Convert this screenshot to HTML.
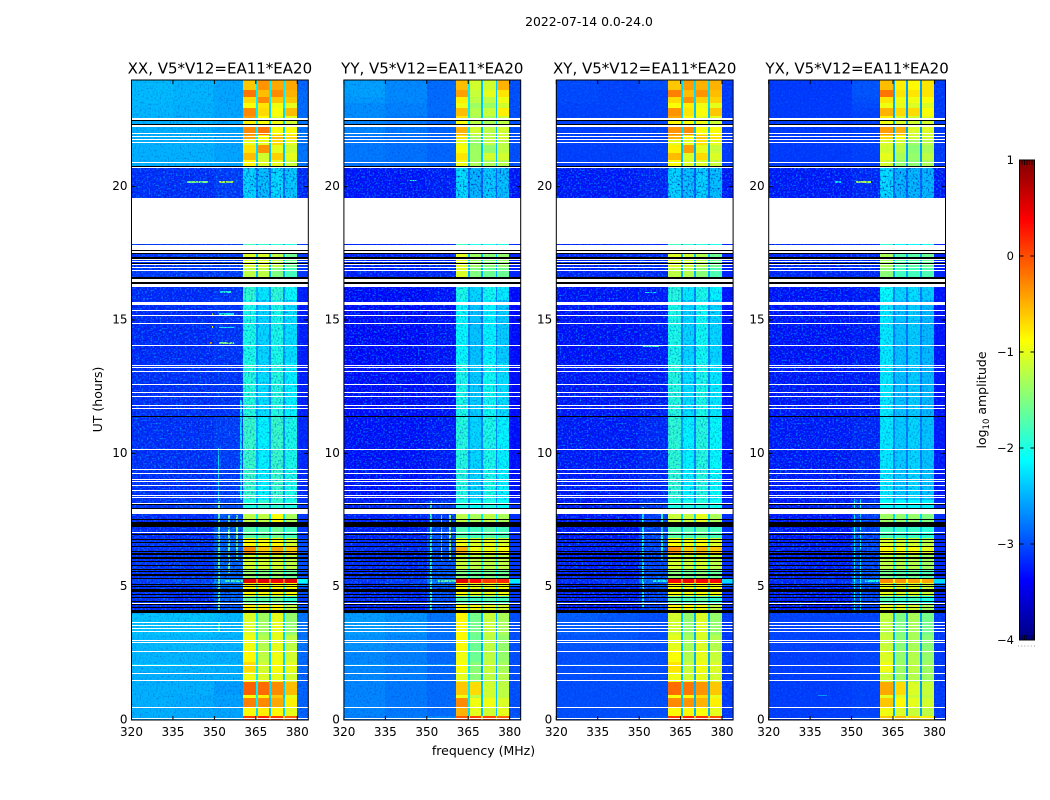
<!DOCTYPE html>
<html lang="en">
<head>
<meta charset="utf-8">
<title>2022-07-14 amplitude waterfall</title>
<style>
html,body{margin:0;padding:0;background:#fff;}
body{width:1050px;height:800px;overflow:hidden;}
svg{display:block;font-family:"DejaVu Sans","Liberation Sans",sans-serif;}
</style>
</head>
<body>
<svg id="fig" xmlns="http://www.w3.org/2000/svg" width="1050" height="800" viewBox="0 0 1050 800">
<defs>
<filter id="grain-dark" x="0" y="0" width="1" height="1" color-interpolation-filters="sRGB">
<feTurbulence type="fractalNoise" baseFrequency="0.6 0.5" numOctaves="1" seed="3"/>
<feColorMatrix values="0 0 0 0 0  0 0 0 0 0.1  0 0 0 0 0.7  3 0 0 0 -1.5"/>
</filter>
<filter id="grain-light" x="0" y="0" width="1" height="1" color-interpolation-filters="sRGB">
<feTurbulence type="fractalNoise" baseFrequency="0.55 0.6" numOctaves="1" seed="11"/>
<feColorMatrix values="0 0 0 0 0  0 0 0 0 0.6  0 0 0 0 1  0 3 0 0 -1.5"/>
</filter>
<linearGradient id="jet-gradient" x1="0" y1="1" x2="0" y2="0"></linearGradient>
</defs>
<text x="589" y="26" font-size="12.4" text-anchor="middle">2022-07-14 0.0-24.0</text>
<text x="483.5" y="755" font-size="12.5" text-anchor="middle">frequency (MHz)</text>
<text x="102" y="399.5" font-size="12.5" text-anchor="middle" transform="rotate(-90 102 399.5)">UT (hours)</text>
<text x="986" y="400" font-size="12.5" text-anchor="middle" transform="rotate(-90 986 400)">log<tspan font-size="8.5" dy="3">10</tspan><tspan dy="-3"> amplitude</tspan></text>
</svg>
<script>
const panelTitles = ["XX, V5*V12=EA11*EA20", "YY, V5*V12=EA11*EA20", "XY, V5*V12=EA11*EA20", "YX, V5*V12=EA11*EA20"];
const xTicks = [320, 335, 350, 365, 380];
const yTicks = [0, 5, 10, 15, 20];
const cbarTicks = [1, 0, -1, -2, -3, -4];
const freqEdges = [320, 335, 350, 360.4, 365, 365.8, 369.8, 370.5, 374.9, 375.6, 379.9, 384];
const hourEdges = [0, 0.15, 0.49, 0.82, 0.94, 1.43, 1.8, 2.18, 2.63, 3.19, 4.01, 4.35, 4.65, 5.03, 5.14, 5.29, 5.63, 6.19, 6.53, 6.83, 7.24, 7.73, 8.25, 11.4, 13.4, 15.75, 16.35, 17, 17.5, 17.85, 19.59, 20.71, 21, 21.26, 21.56, 21.75, 21.94, 22.31, 22.46, 22.65, 22.95, 23.14, 23.36, 23.63, 24];
const N = null;
const noData = [N, N, N, N, N, N, N, N, N, N, N];
const ampXX = [
[-2.5,-2.52,-2.55,.1,-.4,.2,-.5,.1,-.6,-.1,-2.9],
[-2.5,-2.52,-2.55,-.85,-2.3,-.8,-2.4,-.85,-2.3,-1,-2.9],
[-2.5,-2.52,-2.58,-.25,-2.2,-.3,-2.4,-.45,-2.3,-.8,-2.9],
[-2.5,-2.52,-2.55,-.9,-2.2,-.8,-2.3,-.6,-2.4,-1,-2.9],
[-2.5,-2.5,-2.6,-.1,-2.2,-.15,-2.3,-.3,-2.3,-.55,-2.9],
[-2.5,-2.5,-2.5,-.95,-2.2,-1.05,-2.3,-1,-2.3,-1.1,-2.9],
[-2.47,-2.48,-2.5,-.7,-2.2,-1.1,-2.3,-.9,-2.3,-1,-2.85],
[-2.47,-2.48,-2.5,-.85,-2.2,-1.2,-2.3,-.95,-2.3,-1.1,-2.85],
[-2.45,-2.45,-2.48,-.95,-2.2,-1.25,-2.3,-1,-2.3,-1.2,-2.8],
[-2.4,-2.4,-2.45,-1.05,-2.2,-1.35,-2.3,-1,-2.3,-1.4,-2.8],
[-3.2,-3.2,-3,-.8,-1.8,-.8,-1.8,-.9,-1.8,-1.2,-3],
[-3.15,-3.2,-2.9,-1.6,-2.3,-1.7,-2.3,-1.6,-2.3,-1.9,-3.1],
[-3.15,-3.2,-2.9,-.85,-2,-.9,-2,-.85,-2,-.9,-3],
[-3.15,-3.05,-2.85,-.8,-1.8,-.9,-1.8,-.85,-1.8,-.9,-2.6],
[-3.1,-3.05,-2.65,.5,-.2,.5,-.2,.45,-.2,.5,-2.1],
[-3.15,-3.15,-2.9,-1.4,-2.1,-1.5,-2.1,-1.4,-2.1,-1.6,-3],
[-3.15,-3.15,-2.9,-1.1,-2,-1.1,-2,-1.1,-2,-1.2,-3],
[-3.15,-3.15,-2.9,-.3,-1.8,-.6,-1.8,-.45,-1.8,-.6,-3],
[-3.15,-3.15,-2.9,-.85,-2,-.9,-2,-.85,-2,-1.1,-3],
[-3.2,-3.2,-2.9,-1.7,-2.3,-1.7,-2.3,-1.6,-2.3,-1.8,-3.1],
[-3.2,-3.2,-3,-1.2,-2.2,-1.2,-2.2,-.9,-2.2,-1.3,-3.1],
[-3.15,-3.1,-3,-2,-2.5,-1.9,-2.5,-1.9,-2.5,-2,-3.1],
[-3.17,-3.17,-3.1,-1.85,-2.5,-2.15,-2.6,-1.85,-2.6,-2,-3.2],
[-3.17,-3.17,-3.15,-1.95,-2.6,-2.25,-2.7,-1.95,-2.6,-2.15,-3.25],
[-3.2,-3.2,-3.15,-2,-2.6,-2.3,-2.7,-2,-2.6,-2.25,-3.25],
[-3.2,-3.2,-3.15,-1.9,-2.5,-2.2,-2.6,-1.9,-2.6,-2.1,-3.25],
[-3.12,-3.12,-3.1,-1.2,-2.5,-1.2,-2.5,-1.5,-2.5,-1.8,-3.1],
[-3.15,-3.12,-3.1,-1.05,-2.4,-1.05,-2.4,-1.2,-2.4,-1.6,-3.1],
[-3.1,-3.1,-3.1,-1.8,-2.5,-1.9,-2.5,-1.9,-2.5,-2,-3.1],
noData,
[-3.17,-3.17,-3.1,-2.3,-2.8,-2.4,-2.85,-2.25,-2.85,-2.35,-3.2],
[-2.5,-2.5,-2.55,-.85,-2.4,-1.05,-2.4,-1,-2.4,-1.15,-2.8],
[-2.5,-2.5,-2.55,-.55,-2.3,-1.1,-2.4,-.65,-2.4,-1,-2.8],
[-2.5,-2.5,-2.55,-.75,-2.3,-.35,-2.4,-1,-2.4,-1.1,-2.8],
[-2.5,-2.5,-2.55,-1,-2.3,-1,-2.3,-.7,-2.3,-1,-2.8],
[-2.5,-2.5,-2.55,-.45,-2.2,-.85,-2.3,-.55,-2.3,-.7,-2.8],
[-2.5,-2.5,-2.55,-.3,-2.2,-.2,-2.3,-.9,-2.3,-.9,-2.8],
[-2.5,-2.5,-2.55,-.8,-2.2,-.9,-2.3,-.95,-2.3,-1.1,-2.8],
[-2.47,-2.5,-2.55,-.4,-2.2,-.85,-2.3,-1,-2.3,-1,-2.85],
[-2.47,-2.5,-2.55,-.3,-2.2,-.7,-2.3,-.9,-2.3,-.55,-2.85],
[-2.47,-2.5,-2.55,-.9,-2.2,-.75,-2.3,-.95,-2.2,-1,-2.85],
[-2.45,-2.48,-2.55,-.7,-2.2,-.3,-2.2,-.6,-2.2,-.6,-2.85],
[-2.45,-2.48,-2.55,-.2,-2.2,-.55,-2.2,-.3,-2.2,-.5,-2.85],
[-2.45,-2.48,-2.55,-.6,-2.2,-.35,-2.2,-.45,-2.2,-.45,-2.9]
];
const ampYY = [
[-2.75,-2.75,-2.7,-.05,-.6,.05,-.7,.05,-.7,-.1,-2.9],
[-2.72,-2.78,-2.85,-.5,-2.3,-1,-2.4,-1.1,-2.4,-1,-3],
[-2.72,-2.78,-2.85,-.3,-2.2,-.95,-2.4,-.95,-2.4,-1.05,-3],
[-2.72,-2.78,-2.85,-.95,-2.2,-1.2,-2.4,-1.1,-2.4,-1.2,-3],
[-2.72,-2.78,-2.85,-.6,-2.2,-.7,-2.4,-1.1,-2.4,-1.2,-3],
[-2.7,-2.75,-2.85,-1,-2.2,-1.45,-2.5,-1.2,-2.5,-1.25,-3],
[-2.7,-2.75,-2.85,-.9,-2.2,-1.45,-2.5,-1.15,-2.5,-1.3,-3],
[-2.7,-2.75,-2.85,-.95,-2.2,-1.6,-2.5,-1.2,-2.5,-1.4,-3],
[-2.65,-2.7,-2.82,-.85,-2.2,-1.6,-2.5,-1.2,-2.5,-1.4,-3],
[-2.6,-2.65,-2.8,-.85,-2.2,-1.55,-2.5,-1.15,-2.5,-1.3,-3],
[-3.25,-3.25,-3.05,-.9,-1.8,-.95,-1.8,-1,-1.8,-1.1,-3.1],
[-3.2,-3.2,-3,-1.7,-2.3,-1.8,-2.3,-1.7,-2.3,-1.8,-3.1],
[-3.2,-3.2,-3,-.9,-2,-1,-2,-1,-2,-.95,-3.1],
[-3.2,-3.1,-2.9,-.85,-1.8,-1,-1.8,-.95,-1.8,-.95,-2.7],
[-3.15,-3.1,-2.75,.5,-.2,.35,-.2,.1,-.2,.2,-2.2],
[-3.2,-3.2,-2.95,-1.5,-2.1,-1.6,-2.1,-1.5,-2.1,-1.6,-3.1],
[-3.2,-3.2,-3,-1.15,-2,-1.2,-2,-1.2,-2,-1.2,-3.1],
[-3.2,-3.2,-3,-.5,-1.8,-.95,-1.8,-.95,-1.8,-.9,-3.1],
[-3.2,-3.2,-3,-.95,-2,-1.05,-2,-1,-2,-1.05,-3.1],
[-3.25,-3.25,-3,-1.75,-2.3,-1.8,-2.3,-1.7,-2.3,-1.8,-3.15],
[-3.25,-3.25,-3.1,-1.2,-2.2,-1.3,-2.2,-1.2,-2.2,-1.3,-3.15],
[-3.25,-3.2,-3.1,-2,-2.6,-2.1,-2.6,-2,-2.6,-2.1,-3.15],
[-3.33,-3.33,-3.28,-1.95,-2.6,-2.3,-2.7,-2,-2.7,-2.15,-3.33],
[-3.35,-3.35,-3.32,-2,-2.7,-2.35,-2.8,-2.05,-2.7,-2.25,-3.35],
[-3.37,-3.37,-3.32,-2.1,-2.7,-2.4,-2.8,-2.15,-2.7,-2.35,-3.35],
[-3.37,-3.37,-3.32,-2,-2.6,-2.3,-2.7,-2.05,-2.7,-2.2,-3.35],
[-3.25,-3.25,-3.2,-1.05,-2.5,-1.5,-2.5,-1.6,-2.5,-1.6,-3.2],
[-3.25,-3.25,-3.2,-1,-2.4,-1.35,-2.4,-1.45,-2.4,-1.4,-3.2],
[-3.25,-3.25,-3.2,-1.8,-2.5,-2,-2.5,-2,-2.5,-2,-3.2],
noData,
[-3.3,-3.3,-3.25,-2.25,-2.85,-2.45,-2.9,-2.35,-2.9,-2.4,-3.3],
[-2.8,-2.82,-2.88,-.95,-2.4,-1.3,-2.4,-1.3,-2.4,-1.25,-3],
[-2.78,-2.82,-2.88,-.75,-2.3,-1.35,-2.4,-1.1,-2.4,-1.1,-3],
[-2.78,-2.82,-2.88,-.9,-2.3,-1.35,-2.4,-1.4,-2.4,-1.2,-3],
[-2.78,-2.82,-2.88,-1,-2.3,-1.4,-2.4,-1.2,-2.4,-1.2,-3],
[-2.78,-2.82,-2.88,-.75,-2.2,-1.3,-2.4,-1.2,-2.4,-1.1,-3],
[-2.72,-2.78,-2.88,-.5,-2.2,-1.1,-2.4,-1.2,-2.4,-1.1,-3],
[-2.72,-2.78,-2.88,-.9,-2.2,-1.2,-2.4,-1.3,-2.4,-1.2,-3],
[-2.68,-2.78,-2.88,-.75,-2.2,-1.3,-2.4,-1.3,-2.4,-1.1,-3],
[-2.68,-2.74,-2.85,-.55,-2.2,-1.25,-2.4,-1.15,-2.4,-.8,-3],
[-2.68,-2.74,-2.85,-.95,-2.2,-1.35,-2.4,-1.35,-2.4,-1.1,-3],
[-2.62,-2.7,-2.85,-.8,-2.2,-1.2,-2.4,-1.2,-2.4,-.95,-3],
[-2.58,-2.7,-2.85,-.4,-2.2,-1.15,-2.4,-1,-2.4,-.75,-3],
[-2.58,-2.7,-2.85,-.55,-2.2,-1.1,-2.4,-1.1,-2.4,-.5,-3]
];
const ampXY = [
[-3,-3,-2.95,.1,-.5,.2,-.6,.15,-.6,0,-3.1],
[-3,-3,-3,-.85,-2.4,-.85,-2.5,-.9,-2.5,-1,-3.1],
[-3,-3,-3,-.3,-2.4,-.35,-2.5,-.5,-2.5,-.8,-3.1],
[-3,-3,-3,-.9,-2.4,-.85,-2.5,-.7,-2.5,-1,-3.1],
[-3,-3,-3,-.15,-2.3,-.2,-2.5,-.35,-2.5,-.6,-3.1],
[-3,-3,-3,-.95,-2.4,-1.1,-2.5,-1,-2.5,-1.1,-3.1],
[-3,-3,-3,-.75,-2.4,-1.15,-2.5,-.95,-2.5,-1.05,-3.1],
[-3,-3,-3,-.9,-2.4,-1.25,-2.5,-1,-2.5,-1.15,-3.1],
[-2.97,-2.97,-3,-1,-2.4,-1.3,-2.5,-1.05,-2.5,-1.25,-3.1],
[-2.92,-2.95,-3,-1.1,-2.4,-1.4,-2.5,-1.05,-2.5,-1.4,-3.1],
[-3.3,-3.3,-3.1,-.85,-1.9,-.85,-1.9,-.95,-1.9,-1.2,-3.15],
[-3.25,-3.25,-3.05,-1.65,-2.4,-1.75,-2.4,-1.65,-2.4,-1.9,-3.15],
[-3.25,-3.25,-3.05,-.9,-2,-.95,-2,-.9,-2,-.95,-3.15],
[-3.25,-3.2,-3,-.85,-1.9,-.95,-1.9,-.9,-1.9,-.95,-2.8],
[-3.2,-3.15,-2.85,.4,-.3,.45,-.3,.4,-.3,.4,-2.3],
[-3.25,-3.25,-3,-1.45,-2.2,-1.55,-2.2,-1.45,-2.2,-1.6,-3.15],
[-3.25,-3.25,-3.05,-1.1,-2.1,-1.15,-2.1,-1.1,-2.1,-1.2,-3.15],
[-3.25,-3.25,-3.05,-.35,-1.9,-.6,-1.9,-.5,-1.9,-.6,-3.15],
[-3.25,-3.25,-3.05,-.9,-2.1,-.95,-2.1,-.9,-2.1,-1.05,-3.15],
[-3.3,-3.3,-3.05,-1.7,-2.4,-1.75,-2.4,-1.65,-2.4,-1.8,-3.15],
[-3.3,-3.3,-3.1,-1.15,-2.3,-1.15,-2.3,-1,-2.3,-1.3,-3.15],
[-3.3,-3.25,-3.1,-2,-2.6,-2,-2.6,-1.95,-2.6,-2.05,-3.15],
[-3.28,-3.28,-3.22,-1.9,-2.55,-2.15,-2.7,-1.95,-2.7,-2.1,-3.28],
[-3.3,-3.3,-3.28,-1.95,-2.65,-2.25,-2.75,-2,-2.7,-2.2,-3.3],
[-3.32,-3.32,-3.28,-2,-2.7,-2.3,-2.75,-2.05,-2.7,-2.3,-3.3],
[-3.32,-3.32,-3.28,-1.95,-2.6,-2.2,-2.7,-2,-2.7,-2.15,-3.3],
[-3.22,-3.22,-3.2,-1.2,-2.5,-1.25,-2.5,-1.45,-2.5,-1.75,-3.2],
[-3.22,-3.22,-3.2,-1.05,-2.4,-1.1,-2.4,-1.25,-2.4,-1.6,-3.2],
[-3.22,-3.22,-3.2,-1.8,-2.5,-1.9,-2.5,-1.9,-2.5,-2,-3.2],
noData,
[-3.28,-3.28,-3.22,-2.3,-2.85,-2.4,-2.9,-2.3,-2.9,-2.4,-3.28],
[-3.07,-3.07,-3.05,-.9,-2.5,-1.05,-2.5,-1.05,-2.5,-1.15,-3.1],
[-3.07,-3.07,-3.05,-.55,-2.4,-1.05,-2.5,-.7,-2.5,-1.05,-3.1],
[-3.07,-3.07,-3.05,-.8,-2.4,-.4,-2.5,-1,-2.5,-1.15,-3.1],
[-3.07,-3.07,-3.05,-1,-2.4,-1,-2.4,-.75,-2.4,-1,-3.1],
[-3.07,-3.07,-3.05,-.5,-2.3,-.85,-2.4,-.6,-2.4,-.75,-3.1],
[-3.07,-3.07,-3.05,-.35,-2.3,-.3,-2.4,-.9,-2.4,-.9,-3.1],
[-3.07,-3.07,-3.05,-.85,-2.3,-.9,-2.4,-.95,-2.4,-1.1,-3.1],
[-3.05,-3.05,-3.05,-.45,-2.3,-.85,-2.4,-1,-2.4,-1,-3.1],
[-3.05,-3.05,-3.05,-.35,-2.3,-.75,-2.4,-.9,-2.4,-.6,-3.1],
[-3.05,-3.05,-3.05,-.9,-2.3,-.8,-2.4,-.95,-2.3,-1,-3.1],
[-3.02,-3.05,-3.05,-.7,-2.3,-.35,-2.3,-.65,-2.3,-.65,-3.1],
[-3.02,-3.05,-3.05,-.25,-2.3,-.55,-2.3,-.35,-2.3,-.55,-3.1],
[-3.02,-3.05,-3,-.6,-2.3,-.4,-2.3,-.5,-2.3,-.5,-3.1]
];
const ampYX = [
[-3.08,-3.08,-3,-.6,-.9,-.55,-1,-.7,-1,-.8,-3.1],
[-3.08,-3.08,-3.05,-.95,-2.5,-1.05,-2.6,-1.15,-2.6,-1.2,-3.1],
[-3.08,-3.08,-3.05,-.6,-2.5,-.85,-2.6,-1,-2.6,-1.1,-3.1],
[-3.08,-3.08,-3.05,-1,-2.5,-1.05,-2.6,-1.15,-2.6,-1.2,-3.1],
[-3.08,-3.08,-3.05,-.45,-2.5,-.7,-2.6,-1.05,-2.6,-1.15,-3.1],
[-3.08,-3.08,-3.05,-1.15,-2.5,-1.35,-2.6,-1.25,-2.6,-1.35,-3.1],
[-3.08,-3.08,-3.05,-.95,-2.5,-1.35,-2.6,-1.2,-2.6,-1.35,-3.1],
[-3.08,-3.08,-3.05,-1.05,-2.5,-1.4,-2.6,-1.25,-2.6,-1.4,-3.1],
[-3.05,-3.08,-3.05,-1.15,-2.5,-1.45,-2.6,-1.3,-2.6,-1.45,-3.1],
[-3.05,-3.05,-3.05,-1.2,-2.5,-1.5,-2.6,-1.3,-2.6,-1.55,-3.1],
[-3.3,-3.3,-3.1,-1,-2,-1,-2,-1.1,-2,-1.3,-3.15],
[-3.25,-3.25,-3.05,-1.75,-2.4,-1.85,-2.4,-1.8,-2.4,-2,-3.15],
[-3.25,-3.25,-3.05,-1,-2.1,-1.05,-2.1,-1.05,-2.1,-1.15,-3.15],
[-3.25,-3.22,-3,-1,-2,-1.05,-2,-1.05,-2,-1.1,-2.8],
[-3.2,-3.15,-2.85,-.3,-.9,-.35,-.9,-.4,-.9,-.45,-2.3],
[-3.25,-3.25,-3,-1.55,-2.2,-1.65,-2.2,-1.6,-2.2,-1.75,-3.15],
[-3.25,-3.25,-3.05,-1.2,-2.1,-1.25,-2.1,-1.25,-2.1,-1.35,-3.15],
[-3.25,-3.25,-3.05,-.85,-2,-.9,-2,-.9,-2,-1,-3.15],
[-3.25,-3.25,-3.05,-1.05,-2.1,-1.1,-2.1,-1.1,-2.1,-1.2,-3.15],
[-3.3,-3.3,-3.05,-1.8,-2.4,-1.85,-2.4,-1.85,-2.4,-1.95,-3.15],
[-3.3,-3.3,-3.1,-1.35,-2.3,-1.4,-2.3,-1.4,-2.3,-1.5,-3.15],
[-3.3,-3.25,-3.1,-2.1,-2.6,-2.15,-2.6,-2.15,-2.6,-2.2,-3.15],
[-3.28,-3.28,-3.22,-2.2,-2.7,-2.35,-2.75,-2.3,-2.75,-2.4,-3.28],
[-3.3,-3.3,-3.28,-2.2,-2.75,-2.4,-2.8,-2.35,-2.75,-2.45,-3.3],
[-3.32,-3.32,-3.28,-2.2,-2.75,-2.4,-2.8,-2.35,-2.75,-2.45,-3.3],
[-3.32,-3.32,-3.28,-2.1,-2.7,-2.3,-2.75,-2.25,-2.75,-2.35,-3.3],
[-3.22,-3.22,-3.2,-1.45,-2.55,-1.8,-2.55,-1.8,-2.55,-1.75,-3.2],
[-3.22,-3.22,-3.2,-1.3,-2.5,-1.7,-2.5,-1.7,-2.5,-1.6,-3.2],
[-3.22,-3.22,-3.2,-1.9,-2.6,-2.1,-2.6,-2.1,-2.6,-2.05,-3.2],
noData,
[-3.28,-3.28,-3.22,-2.25,-2.85,-2.45,-2.9,-2.45,-2.9,-2.45,-3.28],
[-3.1,-3.1,-3.07,-1.1,-2.6,-1.4,-2.6,-1.45,-2.6,-1.3,-3.1],
[-3.1,-3.1,-3.07,-1,-2.6,-1.3,-2.6,-1.4,-2.6,-1.2,-3.1],
[-3.1,-3.1,-3.07,-1.1,-2.6,-1.2,-2.6,-1.45,-2.6,-1.3,-3.1],
[-3.1,-3.1,-3.07,-1.05,-2.5,-1.1,-2.6,-1.35,-2.6,-1.2,-3.1],
[-3.1,-3.1,-3.07,-.7,-2.5,-.85,-2.6,-1.1,-2.6,-1.1,-3.1],
[-3.1,-3.1,-3.07,-.4,-2.5,-.5,-2.6,-1.05,-2.6,-1.05,-3.1],
[-3.1,-3.1,-3.07,-.95,-2.5,-1.05,-2.6,-1.1,-2.6,-1.1,-3.1],
[-3.1,-3.1,-3.05,-.8,-2.5,-1.05,-2.6,-1.1,-2.6,-1,-3.1],
[-3.1,-3.1,-3.05,-.5,-2.5,-.7,-2.6,-.7,-2.6,-.9,-3.1],
[-3.1,-3.1,-3.02,-.95,-2.5,-1,-2.6,-1.05,-2.6,-1.05,-3.1],
[-3.1,-3.1,-3,-.75,-2.5,-.95,-2.6,-.95,-2.6,-.9,-3.1],
[-3.1,-3.1,-2.97,-.2,-2.5,-.75,-2.6,-.75,-2.6,-.75,-3.1],
[-3.1,-3.1,-2.97,-.55,-2.5,-.8,-2.6,-.85,-2.6,-.75,-3.1]
];
const panelAmps = [ampXX, ampYY, ampXY, ampYX];
/* isolated interference: freq start, freq end, hour start, hour end, log amplitude */
const spikesXX = [[340,347.8,20.15,20.22,-1.5],[351.5,357,20.15,20.22,-1.2],[351.2,352,4,8.2,-1.6],[351.2,352,3.3,3.65,-1.9],[351.5,357,14.1,14.18,-1.5],[348.3,349,14.1,14.18,-.4],[352,356,16.02,16.08,-2],[351.2,351.8,8.25,10.2,-2.3],[359.4,360,8.25,12,-2.2],[355,355.5,5.5,7.7,-1.6],[358,358.5,6,7.7,-1.5],[320,360,2.06,2.09,-2.3],[349,349.6,15.2,15.28,-.9],[351.5,357,15.2,15.25,-2],[349,349.6,14.7,14.76,-.9],[351.5,357,14.7,14.75,-2],[354,360.4,5.18,5.26,-1.8]];
const spikesYY = [[351,351.8,4,8.2,-1.8],[355,355.6,6,7.7,-1.4],[358,358.6,6,7.7,-1.4],[354,360.4,5.18,5.26,-1.7],[320,360,2.06,2.09,-2.6],[344,346,20.2,20.25,-1.9]];
const spikesXY = [[351,351.8,4.2,8,-2],[358,358.6,6,7.9,-1.9],[351.5,357,14,14.08,-1.9],[352,356,16,16.05,-2.2],[320,350,2.06,2.09,-2.9],[355,360.4,5.18,5.26,-2]];
const spikesYX = [[350.8,351.4,4,8.3,-2.1],[353,353.5,4,8.3,-2.1],[351.5,357,20.15,20.22,-1.3],[344,346,20.15,20.2,-2.2],[338,341,0.92,0.95,-2.6],[355,360.4,5.18,5.26,-2]];
const panelSpikes = [spikesXX, spikesYY, spikesXY, spikesYX];
const flaggedWhite = [[.05,.09],[.45,.49],[1.475,1.51],[1.725,1.75],[2.04,2.07],[2.54,2.58],[2.89,2.91],[2.97,3.01],[3.3,3.35],[3.41,3.45],[3.525,3.56],[3.64,3.68],[4.35,4.4],[7,7.04],[7.74,7.925],[8.09,8.15],[8.35,8.375],[8.4,8.425],[8.6,8.625],[8.775,8.8],[8.925,8.95],[9.03,9.05],[9.25,9.27],[9.36,9.4],[10.125,10.15],[11.67,11.7],[11.8,11.82],[12.12,12.15],[12.26,12.29],[12.56,12.59],[13.08,13.1],[13.2,13.225],[13.3,13.32],[14.04,14.06],[14.86,14.89],[15.15,15.175],[15.35,15.375],[15.57,15.63],[15.65,15.69],[16.25,16.35],[16.43,16.55],[16.84,16.88],[16.97,17],[17.07,17.1],[17.18,17.2],[17.25,17.3],[17.52,17.59],[17.63,17.8],[20.71,20.75],[20.9,20.94],[21.65,21.68],[21.75,21.78],[21.86,21.89],[21.98,22],[22.25,22.31],[22.5,22.56]];
const flaggedBlack = [[4.025,4.125],[4.2,4.24],[4.31,4.35],[4.41,4.475],[4.59,4.625],[4.69,4.725],[4.8,4.9],[4.975,5.025],[5.08,5.11],[5.275,5.34],[5.41,5.46],[5.54,5.575],[5.64,5.675],[5.76,5.8],[5.925,5.96],[6.05,6.1],[6.19,6.25],[6.29,6.34],[6.5,6.54],[6.625,6.66],[6.75,6.775],[6.925,6.975],[7.225,7.41],[7.5,7.54],[7.925,7.95],[8.05,8.09],[11.38,11.41],[16.35,16.43],[16.55,16.6],[17.1,17.12],[17.3,17.35],[17.5,17.52],[17.59,17.63],[20.75,20.78],[22.31,22.35],[22.46,22.5]];

const SVGNS = "http://www.w3.org/2000/svg";
const fig = document.getElementById("fig");
const panelLefts = [131.5, 343.9, 556.3, 768.7];
const panelW = 176.8, plotTop = 80, plotBottom = 720;
const hourMax = 24, freqMin = 320, freqMax = 384;
const cbar = {x: 1019.5, w: 15, top: 160, bottom: 640, min: -4, max: 1};
/* purely decorative speckle regions: hour from, hour to, freq from, freq to, opacity */
const textureZones = [
  [0, 3.98, 320, 360.4, .35], [3.98, 8.25, 320, 360.4, 1], [8.25, 16.35, 320, 360.4, 1],
  [8.25, 16.35, 360.4, 384, .5], [16.6, 17.85, 320, 360.4, 1], [19.59, 20.71, 320, 384, 1],
  [20.71, 24, 320, 360.4, .35], [0, 3.98, 379.9, 384, .5], [20.71, 24, 379.9, 384, .5]
];

function clamp01(v) { return Math.max(0, Math.min(1, v)); }
function jet(v) {
  const x = clamp01((v - cbar.min) / (cbar.max - cbar.min));
  const r = clamp01(Math.min(4 * x - 1.5, -4 * x + 4.5));
  const g = clamp01(Math.min(4 * x - 0.5, -4 * x + 3.5));
  const b = clamp01(Math.min(4 * x + 0.5, -4 * x + 2.5));
  return "rgb(" + Math.round(r * 255) + "," + Math.round(g * 255) + "," + Math.round(b * 255) + ")";
}
function yOf(h) { return plotBottom - (h / hourMax) * (plotBottom - plotTop); }
function xOf(left, f) { return left + ((f - freqMin) / (freqMax - freqMin)) * panelW; }
function node(parent, tag, attrs) {
  const n = document.createElementNS(SVGNS, tag);
  for (const k in attrs) n.setAttribute(k, attrs[k]);
  parent.appendChild(n);
  return n;
}
function bandRect(parent, left, f1, f2, h1, h2, fill) {
  const x1 = Math.round(xOf(left, f1)), x2 = Math.round(xOf(left, f2));
  const yA = Math.round(yOf(h2));
  const yB = Math.max(yA + 1, Math.round(yOf(h1)));
  return node(parent, "rect", {x: x1, y: yA, width: Math.max(1, x2 - x1), height: yB - yA, fill: fill, "shape-rendering": "crispEdges"});
}

panelAmps.forEach(function (amps, p) {
  const left = panelLefts[p];
  const g = node(fig, "g", {});
  
  

  amps.forEach(function (row, r) {
    row.forEach(function (val, c) {
      if (val === null) return;
      const cell = bandRect(g, left, freqEdges[c], freqEdges[c + 1], hourEdges[r], hourEdges[r + 1], jet(val));
      
      
    });
  });

  panelSpikes[p].forEach(function (s) {
    const spike = bandRect(g, left, s[0], s[1], s[2], s[3], jet(s[4]));
    
    
  });

  textureZones.forEach(function (z) {
    ["grain-dark", "grain-light"].forEach(function (fid) {
      const y = Math.round(yOf(z[1]));
      const x = Math.round(xOf(left, z[2]));
      const grain = node(g, "rect", {x: x, y: y, width: Math.round(xOf(left, z[3])) - x, height: Math.round(yOf(z[0])) - y, fill: "#000", filter: "url(#" + fid + ")", opacity: z[4]});
      
      
    });
  });

  flaggedWhite.forEach(function (b) {
    const stripe = bandRect(g, left, freqMin, freqMax, b[0], b[1], "#fff");
    
    
  });
  flaggedBlack.forEach(function (b) {
    const stripe = bandRect(g, left, freqMin, freqMax, b[0], b[1], "#000");
    
    
  });

  const frame = node(g, "rect", {x: left, y: plotTop, width: panelW, height: plotBottom - plotTop, fill: "none", stroke: "#000", "stroke-width": 1});
  
  

  const title = node(g, "text", {x: left + panelW / 2, y: 73.5, "font-size": 15, "text-anchor": "middle"});
  
  
  title.textContent = panelTitles[p];

  xTicks.forEach(function (t) {
    const x = xOf(left, t);
    const tb = node(g, "line", {x1: x, x2: x, y1: plotBottom, y2: plotBottom - 4, stroke: "#000", "stroke-width": 1});
    
    
    const tt = node(g, "line", {x1: x, x2: x, y1: plotTop, y2: plotTop + 4, stroke: "#000", "stroke-width": 1});
    
    
    const lab = node(g, "text", {x: x, y: 736, "font-size": 12, "text-anchor": "middle"});
    
    
    lab.textContent = t;
  });
  yTicks.forEach(function (t) {
    const y = yOf(t);
    const tl = node(g, "line", {x1: left, x2: left + 4, y1: y, y2: y, stroke: "#000", "stroke-width": 1});
    
    
    const tr = node(g, "line", {x1: left + panelW, x2: left + panelW - 4, y1: y, y2: y, stroke: "#000", "stroke-width": 1});
    
    
    const lab = node(g, "text", {x: left - 4, y: y + 3.5, "font-size": 12, "text-anchor": "end"});
    
    
    lab.textContent = t;
  });
});

/* colorbar */
const grad = document.getElementById("jet-gradient");
for (let i = 0; i <= 32; i++) {
  node(grad, "stop", {offset: (i / 32), "stop-color": jet(cbar.min + (cbar.max - cbar.min) * i / 32)});
}
const cg = node(fig, "g", {});


const cbarBody = node(cg, "rect", {x: cbar.x, y: cbar.top, width: cbar.w, height: cbar.bottom - cbar.top, fill: "url(#jet-gradient)", stroke: "#000", "stroke-width": 1});


function cbarY(v) { return cbar.bottom - (v - cbar.min) / (cbar.max - cbar.min) * (cbar.bottom - cbar.top); }
cbarTicks.forEach(function (v) {
  const y = cbarY(v);
  const t1 = node(cg, "line", {x1: cbar.x, x2: cbar.x + 4, y1: y, y2: y, stroke: "#000", "stroke-width": 1});
  
  
  const t2 = node(cg, "line", {x1: cbar.x + cbar.w, x2: cbar.x + cbar.w - 4, y1: y, y2: y, stroke: "#000", "stroke-width": 1});
  
  
  const lab = node(cg, "text", {x: 1014, y: y + 4, "font-size": 11.5, "text-anchor": "end"});
  
  
  lab.textContent = String(v).replace("-", "\u2212");
});
[0, 1, 2, 3, 4].forEach(function (i) {
  const xm = cbar.x + 2.5 + i * 2.5;
  const top = node(cg, "line", {x1: xm, x2: xm, y1: cbar.top, y2: cbar.top + 5, stroke: "#000", "stroke-width": 0.8});
  
  
  const bot = node(cg, "line", {x1: xm, x2: xm, y1: cbar.bottom, y2: cbar.bottom - 5, stroke: "#000", "stroke-width": 0.8});
  
  
});
[0, 1, 2, 3, 4, 5].forEach(function (i) {
  const dot = node(cg, "rect", {x: 1018 + i * 3.2, y: 645.5, width: 1, height: 1, fill: "#999"});
  
  
});
</script>
</body>
</html>
